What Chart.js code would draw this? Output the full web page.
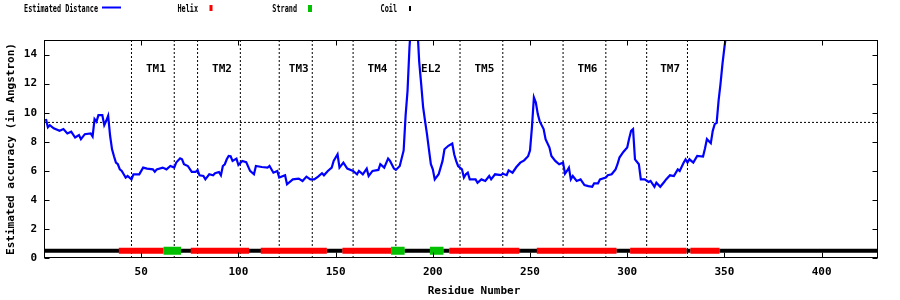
<!DOCTYPE html>
<html>
<head>
<meta charset="utf-8">
<title>Estimated distance</title>
<script src="https://cdn.jsdelivr.net/npm/chart.js@4.4.1/dist/chart.umd.min.js"></script>
<style>
    html, body { margin: 0; padding: 0; background: #fff; }
    #chart { display: block; }
</style>
</head>
<body>
<canvas id="chart" width="900" height="300"></canvas>
<script>
// Estimated distance per residue
const residues = [
    1, 2, 3, 5, 8, 10, 12, 14, 16, 18, 19, 21, 24, 25, 26, 27, 28, 30, 31, 32,
    33, 34, 35, 36, 37, 38, 39, 40, 41, 42, 43, 45, 46, 49, 51, 53, 56, 57, 58, 61,
    63, 65, 67, 68, 70, 71, 72, 74, 76, 78, 79, 80, 82, 83, 85, 87, 88, 90, 91, 92,
    93, 94, 95, 96, 97, 99, 100, 102, 104, 106, 108, 109, 112, 115, 116, 118, 120, 121, 124, 125,
    128, 131, 133, 135, 137, 139, 141, 143, 144, 146, 148, 149, 151, 152, 154, 156, 159, 161, 162, 164,
    166, 167, 169, 172, 173, 175, 177, 178, 180, 181, 183, 185, 186, 187, 188, 189, 190, 191, 192, 193,
    194, 195, 196, 197, 198, 199, 200, 201, 203, 204, 205, 206, 208, 210, 211, 212, 213, 215, 216, 217,
    218, 219, 222, 223, 225, 227, 229, 230, 232, 235, 236, 238, 239, 241, 243, 245, 247, 249, 250, 251,
    252, 253, 254, 255, 257, 258, 260, 261, 263, 265, 267, 268, 269, 270, 271, 272, 274, 276, 278, 280,
    282, 283, 285, 286, 289, 290, 292, 294, 295, 296, 298, 300, 301, 302, 303, 304, 306, 307, 309, 311,
    312, 314, 315, 317, 319, 320, 322, 324, 326, 327, 329, 330, 331, 332, 334, 336, 339, 340, 341, 343,
    344, 345, 346, 347, 348, 349, 350, 351, 352
];
const distance = [
    9.56, 9.0, 9.14, 8.92, 8.75, 8.87, 8.57, 8.69, 8.29, 8.46, 8.18, 8.52, 8.57, 8.36, 9.56, 9.38, 9.83, 9.83, 9.14, 9.44,
    9.79, 8.41, 7.48, 7.0, 6.57, 6.45, 6.1, 5.99, 5.76, 5.53, 5.64, 5.41, 5.76, 5.76, 6.22, 6.15, 6.1, 5.94, 6.1, 6.22,
    6.1, 6.33, 6.22, 6.57, 6.86, 6.79, 6.45, 6.33, 5.92, 5.92, 6.06, 5.69, 5.64, 5.41, 5.76, 5.69, 5.83, 5.92, 5.69, 6.33,
    6.45, 6.79, 7.02, 7.0, 6.68, 6.84, 6.4, 6.68, 6.6, 5.99, 5.76, 6.33, 6.26, 6.22, 6.33, 5.87, 5.99, 5.53, 5.69, 5.07,
    5.41, 5.46, 5.3, 5.6, 5.41, 5.41, 5.6, 5.83, 5.69, 5.99, 6.22, 6.68, 7.14, 6.22, 6.56, 6.15, 5.99, 5.76, 5.99, 5.76,
    6.15, 5.64, 5.99, 6.06, 6.45, 6.22, 6.84, 6.68, 6.15, 6.06, 6.33, 7.4, 9.8, 11.5, 14.5, 16.5, 17.5, 17.0, 16.0, 13.5,
    12.0, 10.4, 9.44, 8.52, 7.48, 6.45, 6.1, 5.41, 5.76, 6.22, 6.68, 7.48, 7.72, 7.88, 7.14, 6.68, 6.33, 6.1, 5.53, 5.76,
    5.87, 5.41, 5.41, 5.18, 5.41, 5.3, 5.64, 5.41, 5.76, 5.7, 5.8, 5.7, 6.03, 5.87, 6.26, 6.56, 6.72, 7.0, 7.4, 9.0,
    11.05, 10.7, 9.9, 9.4, 8.87, 8.18, 7.6, 7.02, 6.68, 6.45, 6.56, 5.8, 5.99, 6.22, 5.41, 5.64, 5.3, 5.41, 5.02, 4.95,
    4.9, 5.14, 5.14, 5.41, 5.53, 5.69, 5.76, 6.1, 6.45, 6.91, 7.3, 7.6, 8.22, 8.75, 8.87, 6.79, 6.45, 5.41, 5.41, 5.23,
    5.3, 4.9, 5.18, 4.9, 5.23, 5.41, 5.69, 5.64, 6.1, 5.99, 6.56, 6.79, 6.56, 6.79, 6.56, 7.02, 6.98, 7.53, 8.18, 7.9,
    8.75, 9.21, 9.3, 10.83, 12.0, 13.36, 14.5, 15.5, 17.0
];
const cutoff = 9.33;

// Secondary structure, residue ranges [first, last]
const helixSegs = [[39, 61], [76, 105], [112, 145], [154, 178], [209, 244], [254, 294], [302, 330], [333, 347]];
const strandSegs = [[62, 70], [179, 185], [199, 205]];
const coilSegs = [[1, 38], [71, 75], [106, 111], [146, 153], [186, 198], [206, 208], [245, 253], [295, 301], [331, 332], [348, 429]];
const ssLevel = 0.5;

// Transmembrane regions
const tmNames = ['TM1', 'TM2', 'TM3', 'TM4', 'EL2', 'TM5', 'TM6', 'TM7'];
const tmStart = [45, 79, 121, 159, 181, 214, 267, 310];
const tmEnd = [67, 101, 138, 181, 214, 236, 289, 331];
const tmLabelLevel = 13;

// Axes
const xTicks = [50, 100, 150, 200, 250, 300, 350, 400];
const yTicks = [0, 2, 4, 6, 8, 10, 12, 14];
const xTitle = 'Residue Number';
const yTitle = 'Estimated accuracy (in Angstron)';

const FONT = '"DejaVu Sans Mono", "Liberation Mono", monospace';

// build the datasets
function segmentPoints(segs, pad) {
    const pts = [];
    segs.forEach(s => {
        pts.push({ x: s[0] - pad, y: ssLevel });
        pts.push({ x: s[1] + pad, y: ssLevel });
        pts.push({ x: s[1] + pad, y: null });
    });
    return pts;
}

const bounds = [...new Set(tmStart.concat(tmEnd))].sort((a, b) => a - b);
const boundPoints = [];
bounds.forEach(b => {
    boundPoints.push({ x: b, y: 0 }, { x: b, y: 15 }, { x: b, y: null });
});

const distPoints = residues.map((r, i) => ({ x: r, y: distance[i] }));

// gnuplot style frame, inward ticks, region labels and key
const gnuplotLook = {
    id: 'gnuplotLook',
    afterDraw(chart) {
        const { ctx, chartArea: a, scales } = chart;
        const x = scales.x, y = scales.y;
        const L = Math.round(a.left) + 0.5, R = Math.round(a.right) - 0.5;
        const T = Math.round(a.top) + 0.5, B = Math.round(a.bottom) - 0.5;
        ctx.save();
        ctx.strokeStyle = '#000';
        ctx.lineWidth = 1;
        ctx.strokeRect(L, T, R - L, B - T);

        ctx.beginPath();
        x.ticks.forEach(t => {
            const px = Math.round(x.getPixelForValue(t.value)) + 0.5;
            ctx.moveTo(px, B); ctx.lineTo(px, B - 5);
            ctx.moveTo(px, T); ctx.lineTo(px, T + 5);
        });
        y.ticks.forEach(t => {
            const py = Math.round(y.getPixelForValue(t.value)) + 0.5;
            ctx.moveTo(L, py); ctx.lineTo(L + 5, py);
            ctx.moveTo(R, py); ctx.lineTo(R - 5, py);
        });
        ctx.stroke();

        // region labels
        ctx.fillStyle = '#000';
        ctx.font = 'bold 11px ' + FONT;
        ctx.textAlign = 'center';
        ctx.textBaseline = 'middle';
        tmNames.forEach((name, i) => {
            const cx = x.getPixelForValue((tmStart[i] + tmEnd[i]) / 2) + 3;
            ctx.fillText(name, cx, y.getPixelForValue(tmLabelLevel));
        });

        // x axis title (gnuplot puts it a little right of centre)
        ctx.fillText(xTitle, (a.left + a.right) / 2 + 13, 291);

        // key across the top, narrow font
        const ds = chart.data.datasets;
        const cols = [111, 211, 310, 410];
        for (let i = 0; i < 4; i++) {
            const d = ds[i];
            const cx = cols[i];
            ctx.save();
            ctx.translate(cx - 13, 9);
            ctx.scale(0.62, 1);
            ctx.textAlign = 'right';
            ctx.fillStyle = '#000';
            ctx.fillText(d.label, 0, 0);
            ctx.restore();
            ctx.fillStyle = d.borderColor;
            if (i === 0) {
                ctx.fillRect(cx - 9, 6.5, 19, 2);
            } else if (i === 1) {
                ctx.fillRect(cx - 1.5, 5, 3, 6);
            } else if (i === 2) {
                ctx.fillRect(cx - 2, 5, 4, 7);
            } else {
                ctx.fillRect(cx - 1, 6, 2, 5);
            }
        }
        ctx.restore();
    }
};

const tickFont = { family: FONT, size: 11, weight: 'bold' };

new Chart(document.getElementById('chart'), {
    type: 'line',
    data: {
        datasets: [
            {
                label: 'Estimated Distance',
                data: distPoints,
                borderColor: '#0000ff',
                borderWidth: 2.2,
                pointRadius: 0
            },
            {
                label: 'Helix',
                data: segmentPoints(helixSegs, 0.5),
                borderColor: '#ff0000',
                borderWidth: 6,
                borderCapStyle: 'butt',
                pointRadius: 0
            },
            {
                label: 'Strand',
                data: segmentPoints(strandSegs, 0.5),
                borderColor: '#00c000',
                borderWidth: 8,
                borderCapStyle: 'butt',
                pointRadius: 0
            },
            {
                label: 'Coil',
                data: segmentPoints(coilSegs, 0.6),
                borderColor: '#000000',
                borderWidth: 4,
                borderCapStyle: 'butt',
                pointRadius: 0
            },
            {
                label: 'cutoff',
                data: [{ x: 0, y: cutoff }, { x: 429, y: cutoff }],
                borderColor: '#000',
                borderWidth: 1,
                borderDash: [2, 2],
                pointRadius: 0
            },
            {
                label: 'bounds',
                data: boundPoints,
                borderColor: '#000',
                borderWidth: 1,
                borderDash: [2, 2],
                pointRadius: 0
            }
        ]
    },
    options: {
        responsive: false,
        animation: false,
        devicePixelRatio: 1,
        layout: { padding: { top: 40, right: 22, left: 0, bottom: 0 } },
        plugins: {
            legend: { display: false },
            tooltip: { enabled: false }
        },
        scales: {
            x: {
                type: 'linear',
                min: 0,
                max: 429,
                grid: { display: false, drawTicks: false },
                border: { display: false },
                afterBuildTicks: s => { s.ticks = xTicks.map(v => ({ value: v })); },
                afterFit: s => { s.height = 42; },
                ticks: { color: '#000', font: tickFont, padding: 8, maxRotation: 0 }
            },
            y: {
                min: 0,
                max: 15,
                grid: { display: false, drawTicks: false },
                border: { display: false },
                afterBuildTicks: s => { s.ticks = yTicks.map(v => ({ value: v })); },
                afterFit: s => { s.width = 44; },
                ticks: { color: '#000', font: tickFont, padding: 7 },
                title: {
                    display: true,
                    text: yTitle,
                    color: '#000',
                    font: tickFont,
                    padding: { top: 5, bottom: 0 }
                }
            }
        }
    },
    plugins: [gnuplotLook]
});
</script>
</body>
</html>
